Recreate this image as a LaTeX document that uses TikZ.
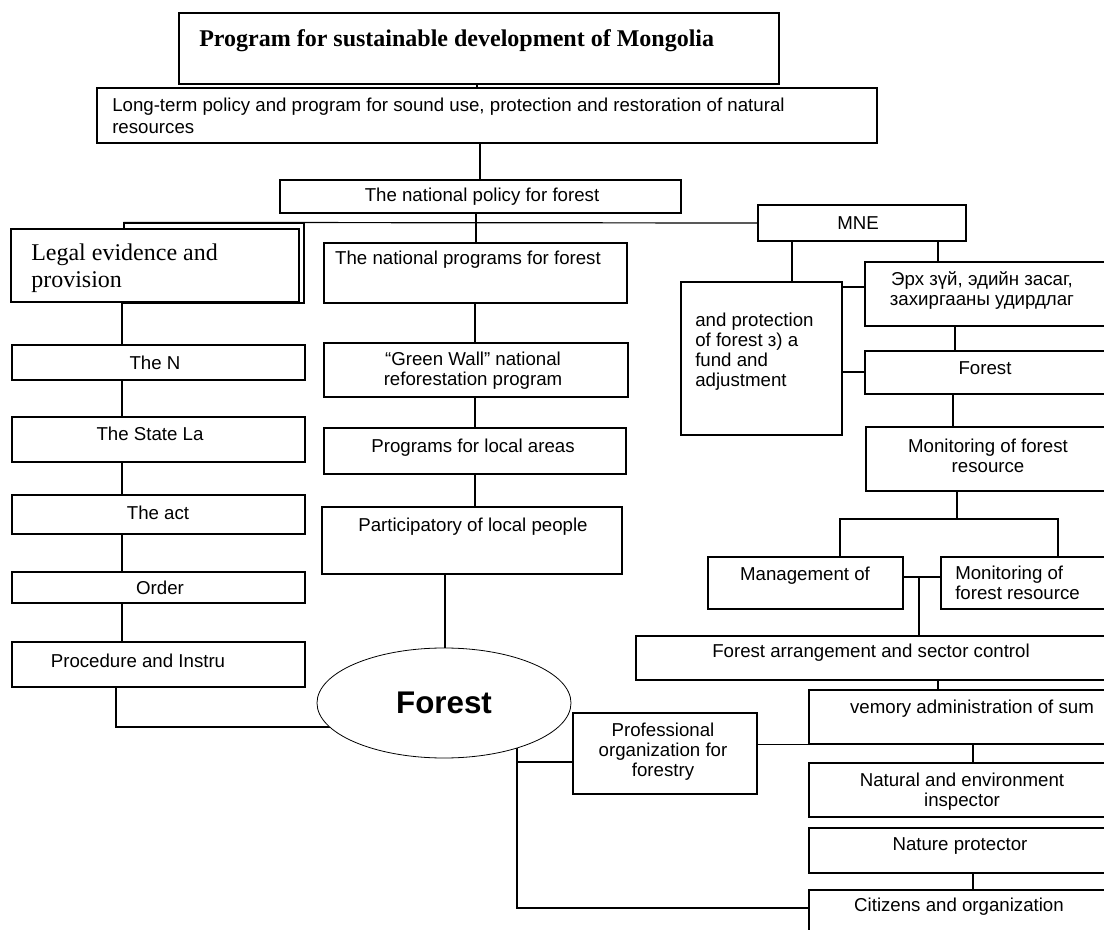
\documentclass[tikz,border=0pt]{standalone}
\usepackage{fontspec}
\setmainfont{Liberation Sans}
\newfontfamily\timesface{Liberation Serif}
\usetikzlibrary{positioning, fit, backgrounds, shapes.geometric}

\tikzset{
  blk/.style={draw, line width=0.9pt, fill=white, inner sep=0pt},
  heavyblk/.style={blk, line width=1.6pt},
  lbl/.style={inner sep=0pt, align=center, font=\fontsize{14}{15}\selectfont},
  lblleft/.style={lbl, align=left},
  wire/.style={line width=0.9pt},
}

\begin{document}
\begin{tikzpicture}[x=0.75pt, y=-0.75pt]
\useasboundingbox (0,0) rectangle (1104,930);
\clip (0,0) rectangle (1104,930);

% top of the tree
\node[heavyblk, fit={(179,13) (779,84)}] (title) {};
\node[blk, fit={(97,88) (877,143)}] (longterm) {};
\node[blk, fit={(280,180) (681,213)}] (natpol) {};

% legal column
\node[blk, fit={(124,223) (304,303)}] (legalback) {};
\node[heavyblk, fit={(11,229) (299,302)}] (legal) {};
\node[blk, fit={(12,345) (305,380)}] (theN) {};
\node[blk, fit={(12,417) (305,462)}] (state) {};
\node[blk, fit={(12,495) (305,534)}] (act) {};
\node[blk, fit={(12,572) (305,603)}] (order) {};
\node[blk, fit={(12,642) (305,687)}] (proc) {};

% programs column
\node[blk, fit={(324,243) (627,303)}] (natprog) {};
\node[blk, fit={(324,343) (628,397)}] (green) {};
\node[blk, fit={(324,428) (626,474)}] (local) {};
\node[blk, fit={(322,507) (622,574)}] (partic) {};
\node[draw, ellipse, fill=white, line width=0.6pt, inner sep=0pt,
      minimum width=190.5pt, minimum height=82.5pt] (forest) at (444,703) {};

% MNE side
\node[blk, fit={(758,205) (966,241)}] (mne) {};
\node[blk, fit={(681,282) (842,435)}] (prot) {};
\node[blk, fit={(865,262) (1115,326)}] (erkh) {};
\node[blk, fit={(865,351) (1115,394)}] (forestR) {};
\node[blk, fit={(866,427) (1115,491)}] (mon1) {};
\node[blk, fit={(708,557) (903,609)}] (mgmt) {};
\node[blk, fit={(941,557) (1115,609)}] (mon2) {};
\node[blk, fit={(636,636) (1115,680)}] (arr) {};
\node[blk, fit={(809,690) (1115,744)}] (vemory) {};
\node[blk, fit={(573,713) (757,794)}] (prof) {};
\node[blk, fit={(809,763) (1115,817)}] (natural) {};
\node[blk, fit={(809,828) (1115,873)}] (protector) {};
\node[blk, fit={(809,890) (1115,940)}] (citizens) {};

% texts
\node[anchor=base west, inner sep=0pt, font=\timesface\bfseries\fontsize{18}{21}\selectfont] (title-t) at (199,47) {Program for sustainable development of Mongolia};
\node[lblleft, anchor=west, font=\fontsize{14}{16.5}\selectfont] (longterm-t) at (112,116) {Long-term policy and program for sound use, protection and restoration of natural\\resources};
\node[lbl] (natpol-t) at (482,197) {The national policy for forest};
\node[inner sep=0pt, anchor=west, align=left, font=\timesface\fontsize{18}{20.5}\selectfont] (legal-t) at (31,268) {Legal evidence and\\provision};
\node[lbl] (theN-t) at (155,363) {The N};
\node[lbl] (state-t) at (150,434) {The State La};
\node[lbl] (act-t) at (158,513) {The act};
\node[lbl] (order-t) at (160,588) {Order};
\node[lbl] (proc-t) at (138,661) {Procedure and Instru};
\node[lbl] (natprog-t) at (468,260) {The national programs for forest};
\node[lbl] (green-t) at (473,371) {``Green Wall'' national\\reforestation program};
\node[lbl] (local-t) at (473,448) {Programs for local areas};
\node[lbl] (partic-t) at (473,527) {Participatory of local people};
\node[inner sep=0pt, font=\bfseries\fontsize{23.5}{26}\selectfont] (forest-t) at (444,703) {Forest};
\node[lbl] (mne-t) at (858,223) {MNE};
\node[lblleft, anchor=west] (prot-t) at (695,352) {and protection\\of forest з) a\\fund and\\adjustment};
\node[lbl] (erkh-t) at (982,291) {Эрх зүй, эдийн засаг,\\захиргааны удирдлаг};
\node[lbl] (forestR-t) at (985,368) {Forest};
\node[lbl] (mon1-t) at (988,456) {Monitoring of forest\\resource};
\node[lbl] (mgmt-t) at (805,576) {Management of};
\node[lblleft, anchor=west] (mon2-t) at (955,583) {Monitoring of\\forest resource};
\node[lbl] (arr-t) at (871,653) {Forest arrangement and sector control};
\node[lbl] (vemory-t) at (972,709) {vemory administration of sum};
\node[lbl] (prof-t) at (663,752) {Professional\\organization for\\forestry};
\node[lbl] (natural-t) at (962,792) {Natural and environment\\inspector};
\node[lbl] (protector-t) at (960,846) {Nature protector};
\node[lbl] (citizens-t) at (959,907) {Citizens and organization};

% junctions
\coordinate (brk) at (957,519);
\coordinate (mj) at (919,577);
\coordinate (fj) at (517,762);
\coordinate (fb) at (517,908);

\begin{scope}[on background layer]
  \draw[wire] (title.south -| 477,0) -- (longterm.north -| 477,0);
  \draw[wire] (longterm.south -| 480,0) -- (natpol.north -| 480,0);
  \draw[wire] (natpol.south -| 476,0) -- (natprog.north -| 476,0);
  \draw[wire] (legalback.north west) -- (mne.west);
  \draw[wire] (legal.south -| 122,0) -- (theN.north -| 122,0);
  \foreach \a/\b in {theN/state, state/act, act/order, order/proc}
    \draw[wire] (\a.south -| 122,0) -- (\b.north -| 122,0);
  \draw[wire] (proc.south -| 116,0) |- (forest.center |- 0,727);
  \foreach \a/\b in {natprog/green, green/local, local/partic}
    \draw[wire] (\a.south -| 475,0) -- (\b.north -| 475,0);
  \draw[wire] (partic.south -| 445,0) -- (forest.center -| 445,0);
  \draw[wire] (mne.south -| 792,0) -- (prot.north -| 792,0);
  \draw[wire] (mne.south -| 938,0) -- (erkh.north -| 938,0);
  \draw[wire] (prot.east |- 0,287) -- (erkh.west |- 0,287);
  \draw[wire] (prot.east |- 0,372) -- (forestR.west |- 0,372);
  \draw[wire] (erkh.south -| 955,0) -- (forestR.north -| 955,0);
  \draw[wire] (forestR.south -| 953,0) -- (mon1.north -| 953,0);
  \draw[wire] (mon1.south -| brk) -- (brk);
  \draw[wire] (mgmt.north -| 840,0) |- (brk) -| (mon2.north -| 1058,0);
  \draw[wire] (mgmt.east |- mj) -- (mon2.west |- mj);
  \draw[wire] (mj) -- (arr.north -| mj);
  \draw[wire] (arr.south -| 938,0) -- (vemory.north -| 938,0);
  \draw[wire] (prof.east |- vemory.south) -- (vemory.south west);
  \draw[wire] (vemory.south -| 973,0) -- (natural.north -| 973,0);
  \draw[wire] (protector.south -| 973,0) -- (citizens.north -| 973,0);
  \draw[wire] (forest.center -| fj) -- (fb) -- (citizens.west |- fb);
  \draw[wire] (fj) -- (prof.west |- fj);
\end{scope}
\end{tikzpicture}
\end{document}
